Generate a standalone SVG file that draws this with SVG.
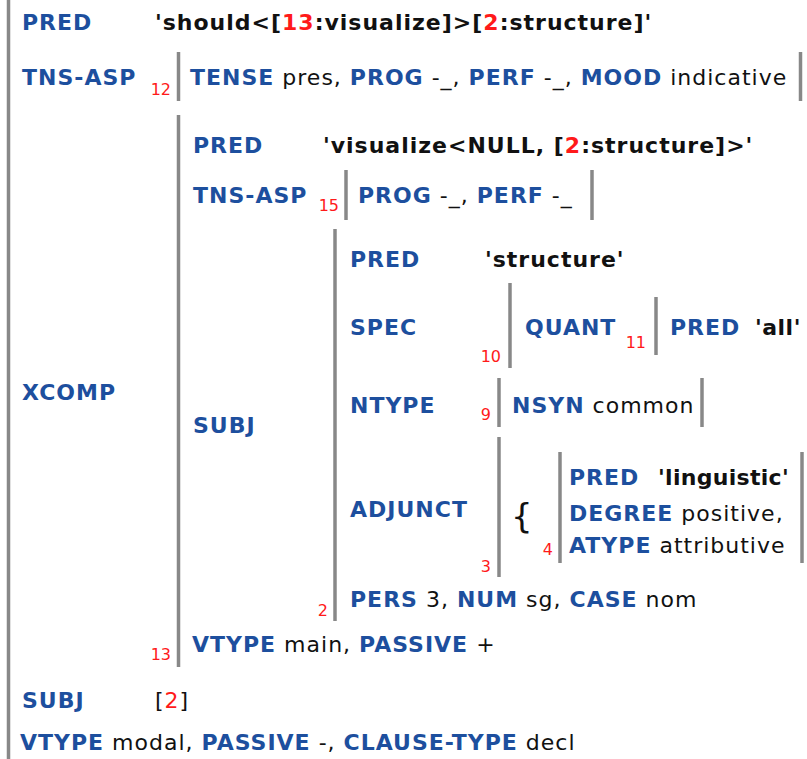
<svg xmlns="http://www.w3.org/2000/svg" width="807" height="759" viewBox="0 0 807 759">
<style>
text{font-family:"DejaVu Sans",Verdana,sans-serif;font-size:22px;letter-spacing:1px;fill:#111}
.k{font-weight:bold;fill:#1d4f9e}
.b{font-weight:bold;fill:#111}
.r{fill:#ff1a1a}
.n{font-size:16px;letter-spacing:0;fill:#ff1a1a;text-anchor:end}
.bar{stroke:#888;stroke-width:3.5;fill:none}
</style>
<rect width="807" height="759" fill="#fff"/>
<g id="f-root">
<line class="bar" x1="8.5" y1="0" x2="8.5" y2="759"/>
<text x="22" y="30" class="k">PRED</text>
<text x="155" y="30" class="b">'should&lt;[<tspan class="r">13</tspan>:visualize]&gt;[<tspan class="r">2</tspan>:structure]'</text>
<text x="22" y="85" class="k">TNS-ASP</text>
<text x="22" y="400" class="k">XCOMP</text>
<text x="22" y="708" class="k">SUBJ</text>
<text x="155" y="708">[<tspan class="r">2</tspan>]</text>
<text x="20" y="750"><tspan class="k">VTYPE</tspan> modal, <tspan class="k">PASSIVE</tspan> -, <tspan class="k">CLAUSE-TYPE</tspan> decl</text>
</g>
<g id="f12">
<text x="171" y="95" class="n">12</text>
<line class="bar" x1="178.5" y1="52" x2="178.5" y2="101"/>
<text x="190" y="85"><tspan class="k">TENSE</tspan> pres, <tspan class="k">PROG</tspan> -_, <tspan class="k">PERF</tspan> -_, <tspan class="k">MOOD</tspan> indicative</text>
<line class="bar" x1="800.5" y1="52" x2="800.5" y2="101"/>
</g>
<g id="f13">
<text x="171" y="660" class="n">13</text>
<line class="bar" x1="178.5" y1="115" x2="178.5" y2="667"/>
<text x="193" y="153" class="k">PRED</text>
<text x="323" y="153" class="b">'visualize&lt;NULL, [<tspan class="r">2</tspan>:structure]&gt;'</text>
<text x="193" y="203" class="k">TNS-ASP</text>
<text x="193" y="433" class="k">SUBJ</text>
<text x="192" y="652"><tspan class="k">VTYPE</tspan> main, <tspan class="k">PASSIVE</tspan> +</text>
</g>
<g id="f15">
<text x="339" y="211" class="n">15</text>
<line class="bar" x1="346" y1="170" x2="346" y2="220"/>
<text x="358" y="203"><tspan class="k">PROG</tspan> -_, <tspan class="k">PERF</tspan> -_</text>
<line class="bar" x1="592" y1="170" x2="592" y2="220"/>
</g>
<g id="f2">
<text x="328" y="616" class="n">2</text>
<line class="bar" x1="335" y1="229" x2="335" y2="621"/>
<text x="350" y="267" class="k">PRED</text>
<text x="485" y="267" class="b">'structure'</text>
<text x="350" y="335" class="k">SPEC</text>
<text x="350" y="413" class="k">NTYPE</text>
<text x="350" y="517" class="k">ADJUNCT</text>
<text x="350" y="607"><tspan class="k">PERS</tspan> 3, <tspan class="k">NUM</tspan> sg, <tspan class="k">CASE</tspan> nom</text>
</g>
<g id="f10">
<text x="501" y="362" class="n">10</text>
<line class="bar" x1="510" y1="283" x2="510" y2="368"/>
<text x="525" y="335" class="k">QUANT</text>
</g>
<g id="f11">
<text x="646" y="348" class="n">11</text>
<line class="bar" x1="656" y1="297" x2="656" y2="355"/>
<text x="670" y="335" class="k">PRED</text>
<text x="755" y="335" class="b" style="letter-spacing:0.5px">'all'</text>
</g>
<g id="f9">
<text x="491" y="420" class="n">9</text>
<line class="bar" x1="499" y1="378" x2="499" y2="427"/>
<text x="512" y="413"><tspan class="k">NSYN</tspan> common</text>
<line class="bar" x1="702" y1="378" x2="702" y2="427"/>
</g>
<g id="f3">
<text x="491" y="572" class="n">3</text>
<line class="bar" x1="499" y1="437" x2="499" y2="577"/>
<text x="511" y="528" style="font-size:34px;letter-spacing:0">{</text>
</g>
<g id="f4">
<text x="553" y="555" class="n">4</text>
<line class="bar" x1="560" y1="452" x2="560" y2="563"/>
<text x="569" y="485" class="k">PRED</text>
<text x="658" y="485" class="b" style="letter-spacing:0.3px">'linguistic'</text>
<text x="569" y="521"><tspan class="k">DEGREE</tspan> positive,</text>
<text x="569" y="553"><tspan class="k">ATYPE</tspan> attributive</text>
<line class="bar" x1="802" y1="452" x2="802" y2="563"/>
</g>
</svg>
